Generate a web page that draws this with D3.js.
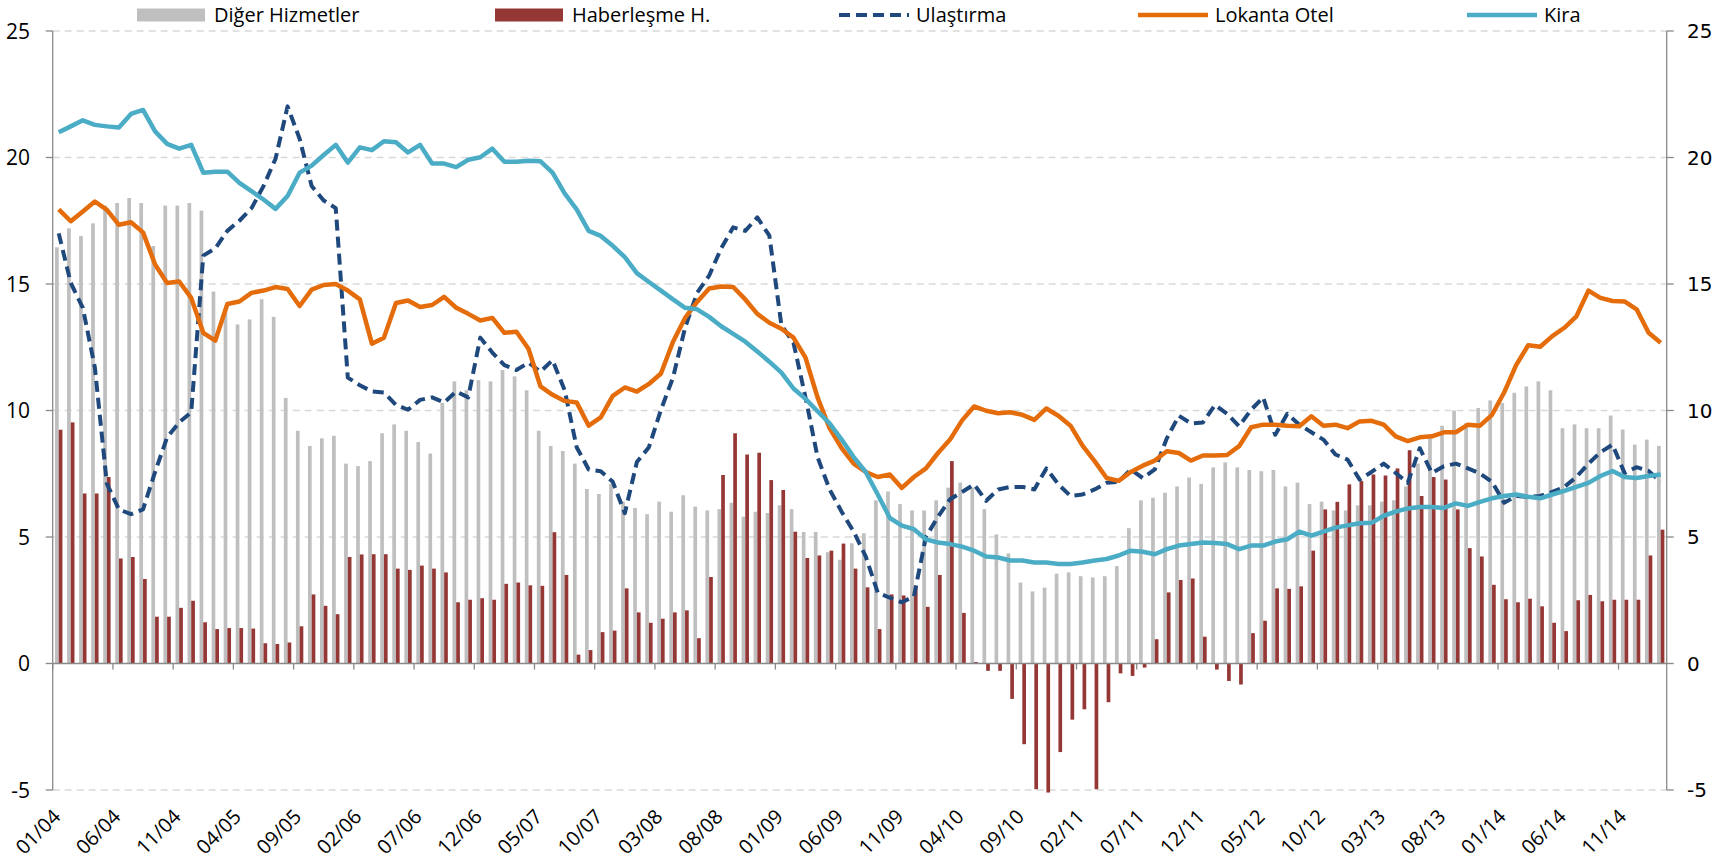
<!DOCTYPE html>
<html lang="tr">
<head>
    <meta charset="UTF-8">
    <title>Hizmet Enflasyonu</title>
    <style>
        body { margin: 0; background: #ffffff; }
    </style>
</head>
<body>
    <div id="chart"></div>

    <script src="https://d3js.org/d3.v7.min.js"></script>
    <script>
        // monthly categories 01/04 .. 02/15
        var months = d3.timeMonths(new Date(2004, 0, 1), new Date(2015, 2, 1));
        var fmt = d3.timeFormat("%m/%y");
        var categories = months.map(function(d){ return fmt(d); });

        var tickLabels = ["01/04", "06/04", "11/04", "04/05", "09/05", "02/06", "07/06", "12/06", "05/07",
                          "10/07", "03/08", "08/08", "01/09", "06/09", "11/09", "04/10", "09/10", "02/11",
                          "07/11", "12/11", "05/12", "10/12", "03/13", "08/13", "01/14", "06/14", "11/14"];

        var yTicks = [25, 20, 15, 10, 5, 0, -5];

        var digerHizmetler = [
            16.45, 17.2, 16.9, 17.4, 18.1, 18.2, 18.4, 18.2, 16.5, 18.1, 18.1, 18.2,
            17.9, 14.7, 14.0, 13.4, 13.6, 14.4, 13.7, 10.5, 9.2, 8.6, 8.9, 9.0,
            7.9, 7.8, 8.0, 9.1, 9.45, 9.2, 8.75, 8.3, 10.3, 11.15, 10.8, 11.2,
            11.15, 11.6, 11.35, 10.8, 9.2, 8.6, 8.4, 7.9, 6.9, 6.7, 7.1, 6.4,
            6.15, 5.9, 6.4, 6.0, 6.65, 6.2, 6.05, 6.1, 6.35, 5.8, 6.0, 5.95,
            6.25, 6.1, 5.2, 5.2, 4.4, 4.1, 4.75, 5.15, 6.45, 6.8, 6.3, 6.05,
            6.05, 6.45, 6.95, 7.15, 6.95, 6.1, 5.1, 4.35, 3.2, 2.85, 3.0, 3.55,
            3.6, 3.45, 3.4, 3.45, 3.85, 5.35, 6.45, 6.55, 6.75, 7.0, 7.35, 7.1,
            7.75, 7.95, 7.75, 7.65, 7.6, 7.65, 7.0, 7.15, 6.3, 6.4, 6.05, 6.05,
            6.25, 6.25, 6.4, 6.45, 7.0, 7.9, 8.95, 9.4, 10.0, 9.5, 10.1, 10.4,
            10.3, 10.7, 10.95, 11.15, 10.8, 9.3, 9.45, 9.3, 9.3, 9.8, 9.25, 8.65,
            8.85, 8.6
        ];

        var haberlesme = [
            9.24, 9.53, 6.72, 6.72, 7.37, 4.15, 4.21, 3.34, 1.85, 1.85, 2.2, 2.48,
            1.63, 1.36, 1.4, 1.4, 1.38, 0.8, 0.77, 0.83, 1.47, 2.73, 2.28, 1.95,
            4.21, 4.31, 4.32, 4.32, 3.75, 3.7, 3.87, 3.75, 3.6, 2.42, 2.52, 2.58,
            2.52, 3.15, 3.2, 3.09, 3.07, 5.19, 3.5, 0.35, 0.53, 1.24, 1.3, 2.97,
            2.02, 1.61, 1.77, 2.02, 2.1, 1.0, 3.42, 7.45, 9.1, 8.26, 8.33, 7.25,
            6.86, 5.21, 4.17, 4.27, 4.46, 4.74, 3.75, 3.01, 1.36, 2.73, 2.69, 3.05,
            2.24, 3.5, 8.0, 2.0, 0.06, -0.29, -0.29, -1.4, -3.19, -4.97, -5.1, -3.5,
            -2.22, -1.81, -4.97, -1.53, -0.39, -0.49, -0.16, 0.96, 2.81, 3.3, 3.36, 1.06,
            -0.24, -0.69, -0.83, 1.2, 1.69, 2.97, 2.95, 3.05, 4.46, 6.09, 6.39, 7.08,
            7.21, 7.47, 7.43, 7.71, 8.43, 6.62, 7.37, 7.27, 6.09, 4.56, 4.23, 3.11,
            2.54, 2.42, 2.56, 2.26, 1.61, 1.28, 2.5, 2.71, 2.46, 2.52, 2.52, 2.52,
            4.27, 5.29
        ];

        var ulastirma = [
            17.0, 15.04, 14.06, 11.7, 7.1, 6.09, 5.9, 6.09, 7.57, 8.94, 9.53, 9.93,
            16.12, 16.41, 17.1, 17.5, 17.99, 18.87, 19.95, 22.02, 20.74, 18.87, 18.3, 18.0,
            11.3, 11.0, 10.75, 10.71, 10.22, 10.03, 10.42, 10.52, 10.32, 10.75, 10.52, 12.88,
            12.29, 11.79, 11.6, 11.89, 11.54, 11.99, 10.81, 8.55, 7.67, 7.6, 7.18, 5.94,
            7.96, 8.55, 10.03, 11.3, 13.27, 14.65, 15.33, 16.41, 17.24, 17.1, 17.63, 16.91,
            13.37, 12.68, 10.52, 8.16, 6.88, 6.0, 5.21, 4.23, 2.8, 2.6, 2.42, 2.65,
            5.01, 5.8, 6.49, 6.78, 7.08, 6.43, 6.88, 6.98, 6.98, 6.88, 7.71, 7.08,
            6.62, 6.68, 6.88, 7.14, 7.18, 7.67, 7.33, 7.67, 8.9, 9.79, 9.49, 9.53,
            10.22, 9.87, 9.38, 10.03, 10.52, 9.04, 9.87, 9.44, 9.14, 8.85, 8.26, 8.06,
            7.27, 7.57, 7.9, 7.53, 7.14, 8.51, 7.53, 7.8, 7.9, 7.71, 7.51, 7.18,
            6.35, 6.62, 6.59, 6.62, 6.78, 6.98, 7.37, 7.9, 8.35, 8.65, 7.53, 7.76,
            7.61, 7.18
        ];

        var lokantaOtel = [
            17.95, 17.48, 17.87, 18.26, 17.93, 17.34, 17.44, 17.04, 15.77, 15.04, 15.1, 14.45,
            13.07, 12.76, 14.21, 14.31, 14.65, 14.74, 14.88, 14.8, 14.13, 14.78, 14.96, 15.0,
            14.74, 14.39, 12.64, 12.88, 14.25, 14.35, 14.09, 14.17, 14.49, 14.06, 13.82, 13.56,
            13.66, 13.07, 13.11, 12.44, 10.95, 10.62, 10.38, 10.32, 9.4, 9.73, 10.58, 10.91,
            10.75, 11.05, 11.46, 12.72, 13.66, 14.29, 14.82, 14.9, 14.88, 14.39, 13.82, 13.47,
            13.23, 12.88, 12.09, 10.52, 9.3, 8.51, 7.9, 7.57, 7.37, 7.47, 6.94, 7.37,
            7.71, 8.32, 8.85, 9.61, 10.16, 9.99, 9.89, 9.93, 9.83, 9.63, 10.08, 9.79,
            9.4, 8.61, 8.0, 7.33, 7.22, 7.57, 7.82, 8.02, 8.39, 8.32, 8.02, 8.22,
            8.22, 8.24, 8.59, 9.34, 9.44, 9.44, 9.4, 9.38, 9.77, 9.4, 9.44, 9.3,
            9.57, 9.59, 9.44, 8.98, 8.79, 8.94, 8.98, 9.14, 9.14, 9.44, 9.4, 9.83,
            10.71, 11.79, 12.58, 12.52, 12.94, 13.27, 13.72, 14.74, 14.45, 14.33, 14.31, 14.0,
            13.07, 12.68
        ];

        var kira = [
            21.0, 21.23, 21.47, 21.29, 21.23, 21.19, 21.72, 21.88, 21.03, 20.54, 20.35, 20.5,
            19.4, 19.44, 19.44, 19.0, 18.67, 18.34, 17.97, 18.48, 19.4, 19.68, 20.1, 20.5,
            19.8, 20.4, 20.29, 20.64, 20.6, 20.2, 20.5, 19.76, 19.76, 19.62, 19.91, 20.01,
            20.35, 19.83, 19.83, 19.87, 19.85, 19.4, 18.58, 17.95, 17.1, 16.9, 16.51, 16.06,
            15.43, 15.08, 14.74, 14.39, 14.06, 14.0, 13.7, 13.33, 13.03, 12.72, 12.33, 11.93,
            11.5, 10.87, 10.46, 9.97, 9.49, 8.85, 8.16, 7.57, 6.68, 5.75, 5.45, 5.31,
            4.91, 4.78, 4.72, 4.62, 4.46, 4.23, 4.19, 4.07, 4.07, 3.99, 3.99, 3.93,
            3.93, 3.99, 4.07, 4.13, 4.27, 4.46, 4.42, 4.32, 4.52, 4.66, 4.72, 4.78,
            4.76, 4.72, 4.52, 4.66, 4.66, 4.82, 4.91, 5.21, 5.05, 5.21, 5.37, 5.46,
            5.54, 5.56, 5.84, 6.0, 6.13, 6.19, 6.19, 6.15, 6.33, 6.23, 6.39, 6.53,
            6.62, 6.68, 6.59, 6.53, 6.68, 6.82, 6.98, 7.14, 7.41, 7.61, 7.37, 7.33,
            7.41, 7.47
        ];

        var width = 1732;
        var height = 867;
        var plot = { left: 52.7, right: 1666.7, top: 31, bottom: 790 };
        var axisColor = "#898989";
        var labelFont = "'Open Sans', sans-serif";

        var svg = d3.select("#chart")
            .append("svg")
                .attr("width", width)
                .attr("height", height)
                .style("background", "#ffffff");

        var xScale = d3.scaleBand()
                        .domain(categories)
                        .range([plot.left, plot.right]);

        var xInner = d3.scaleBand()
                        .domain(["diger", "haber"])
                        .range([0, xScale.bandwidth()])
                        .paddingOuter(0.63);

        var yScale = d3.scaleLinear()
                        .domain([-5, 25])
                        .range([plot.bottom, plot.top]);

        function cx(d, i){
            return xScale(categories[i]) + xScale.bandwidth() / 2;
        }

        // grid lines
        svg.append("g")
            .selectAll("line")
            .data(yTicks.filter(function(d){ return d !== 0; }))
            .enter()
            .append("line")
                .attr("x1", plot.left)
                .attr("x2", plot.right)
                .attr("y1", function(d){ return yScale(d); })
                .attr("y2", function(d){ return yScale(d); })
                .style("stroke", "#d9d9d9")
                .style("stroke-width", 1.5)
                .style("stroke-dasharray", "7,5");

        // bars
        var bars = svg.append("g");
        bars.selectAll("rect.diger")
            .data(digerHizmetler)
            .enter()
            .append("rect")
                .attr("class", "diger")
                .attr("x", function(d, i){ return xScale(categories[i]) + xInner("diger"); })
                .attr("width", xInner.bandwidth())
                .attr("y", function(d){ return yScale(Math.max(0, d)); })
                .attr("height", function(d){ return Math.abs(yScale(d) - yScale(0)); })
                .style("fill", "#bfbfbf");

        bars.selectAll("rect.haber")
            .data(haberlesme)
            .enter()
            .append("rect")
                .attr("class", "haber")
                .attr("x", function(d, i){ return xScale(categories[i]) + xInner("haber"); })
                .attr("width", xInner.bandwidth())
                .attr("y", function(d){ return yScale(Math.max(0, d)); })
                .attr("height", function(d){ return Math.abs(yScale(d) - yScale(0)); })
                .style("fill", "#953735");

        // category axis on zero
        var zeroY = yScale(0);
        svg.append("line")
            .attr("x1", plot.left)
            .attr("x2", plot.right)
            .attr("y1", zeroY)
            .attr("y2", zeroY)
            .style("stroke", axisColor)
            .style("stroke-width", 1.3);

        svg.append("g")
            .selectAll("line")
            .data(tickLabels)
            .enter()
            .append("line")
                .attr("x1", function(d){ return xScale(d); })
                .attr("x2", function(d){ return xScale(d); })
                .attr("y1", zeroY)
                .attr("y2", zeroY + 6)
                .style("stroke", axisColor)
                .style("stroke-width", 1.3);

        // lines
        var line = d3.line()
            .x(cx)
            .y(function(d){ return yScale(d); });

        svg.append("path")
            .datum(ulastirma)
            .attr("d", line)
            .style("fill", "none")
            .style("stroke", "#1f497d")
            .style("stroke-width", 4)
            .style("stroke-dasharray", "11,6")
            .style("stroke-linejoin", "round");

        svg.append("path")
            .datum(lokantaOtel)
            .attr("d", line)
            .style("fill", "none")
            .style("stroke", "#e46c0a")
            .style("stroke-width", 4.5)
            .style("stroke-linejoin", "round");

        svg.append("path")
            .datum(kira)
            .attr("d", line)
            .style("fill", "none")
            .style("stroke", "#4bacc6")
            .style("stroke-width", 4.5)
            .style("stroke-linejoin", "round");

        // left axis
        var leftAxis = svg.append("g");
        leftAxis.append("line")
            .attr("x1", plot.left).attr("x2", plot.left)
            .attr("y1", plot.top).attr("y2", plot.bottom)
            .style("stroke", axisColor)
            .style("stroke-width", 1.3);
        leftAxis.selectAll("line.tick")
            .data(yTicks)
            .enter()
            .append("line")
                .attr("class", "tick")
                .attr("x1", plot.left - 7).attr("x2", plot.left)
                .attr("y1", function(d){ return yScale(d); })
                .attr("y2", function(d){ return yScale(d); })
                .style("stroke", axisColor)
                .style("stroke-width", 1.3);
        leftAxis.selectAll("text")
            .data(yTicks)
            .enter()
            .append("text")
                .attr("x", 30)
                .attr("y", function(d){ return yScale(d); })
                .attr("dy", "0.36em")
                .attr("text-anchor", "end")
                .style("font-family", labelFont)
                .style("font-size", "21px")
                .style("fill", "#000")
                .text(function(d){ return d; });

        // right axis
        var rightAxis = svg.append("g");
        rightAxis.append("line")
            .attr("x1", plot.right).attr("x2", plot.right)
            .attr("y1", plot.top).attr("y2", plot.bottom)
            .style("stroke", axisColor)
            .style("stroke-width", 1.3);
        rightAxis.selectAll("line.tick")
            .data(yTicks)
            .enter()
            .append("line")
                .attr("class", "tick")
                .attr("x1", plot.right).attr("x2", plot.right + 7)
                .attr("y1", function(d){ return yScale(d); })
                .attr("y2", function(d){ return yScale(d); })
                .style("stroke", axisColor)
                .style("stroke-width", 1.3);
        rightAxis.selectAll("text")
            .data(yTicks)
            .enter()
            .append("text")
                .attr("x", 1687)
                .attr("y", function(d){ return yScale(d); })
                .attr("dy", "0.36em")
                .attr("text-anchor", "start")
                .style("font-family", "'DejaVu Sans', sans-serif")
                .style("font-size", "20px")
                .style("fill", "#000")
                .text(function(d){ return d; });

        // x labels
        svg.append("g")
            .selectAll("text")
            .data(tickLabels)
            .enter()
            .append("text")
                .attr("transform", function(d){
                    var x = xScale(d) + xScale.bandwidth() / 2 + 3;
                    return "translate(" + x + ",818) rotate(-45)";
                })
                .attr("text-anchor", "end")
                .style("font-family", labelFont)
                .style("font-size", "20px")
                .style("fill", "#000")
                .text(function(d){ return d; });

        // legend
        var legendItems = [
            { name: "Diğer Hizmetler", type: "rect", color: "#bfbfbf", x: 137 },
            { name: "Haberleşme H.", type: "rect", color: "#953735", x: 495 },
            { name: "Ulaştırma", type: "dash", color: "#1f497d", x: 839 },
            { name: "Lokanta Otel", type: "line", color: "#e46c0a", x: 1138 },
            { name: "Kira", type: "line", color: "#4bacc6", x: 1467 }
        ];
        var legend = svg.append("g");
        legendItems.forEach(function(item){
            if (item.type === "rect") {
                legend.append("rect")
                    .attr("x", item.x).attr("y", 8.5)
                    .attr("width", 68).attr("height", 13)
                    .style("fill", item.color);
            } else {
                legend.append("line")
                    .attr("x1", item.x).attr("x2", item.x + 70)
                    .attr("y1", 15).attr("y2", 15)
                    .style("stroke", item.color)
                    .style("stroke-width", item.type === "dash" ? 4 : 4.5)
                    .style("stroke-dasharray", item.type === "dash" ? "11,6" : null);
            }
            legend.append("text")
                .attr("x", item.x + 77)
                .attr("y", 15)
                .attr("dy", "0.36em")
                .style("font-family", labelFont)
                .style("font-size", "20px")
                .style("fill", "#000")
                .text(item.name);
        });
    </script>
</body>
</html>
